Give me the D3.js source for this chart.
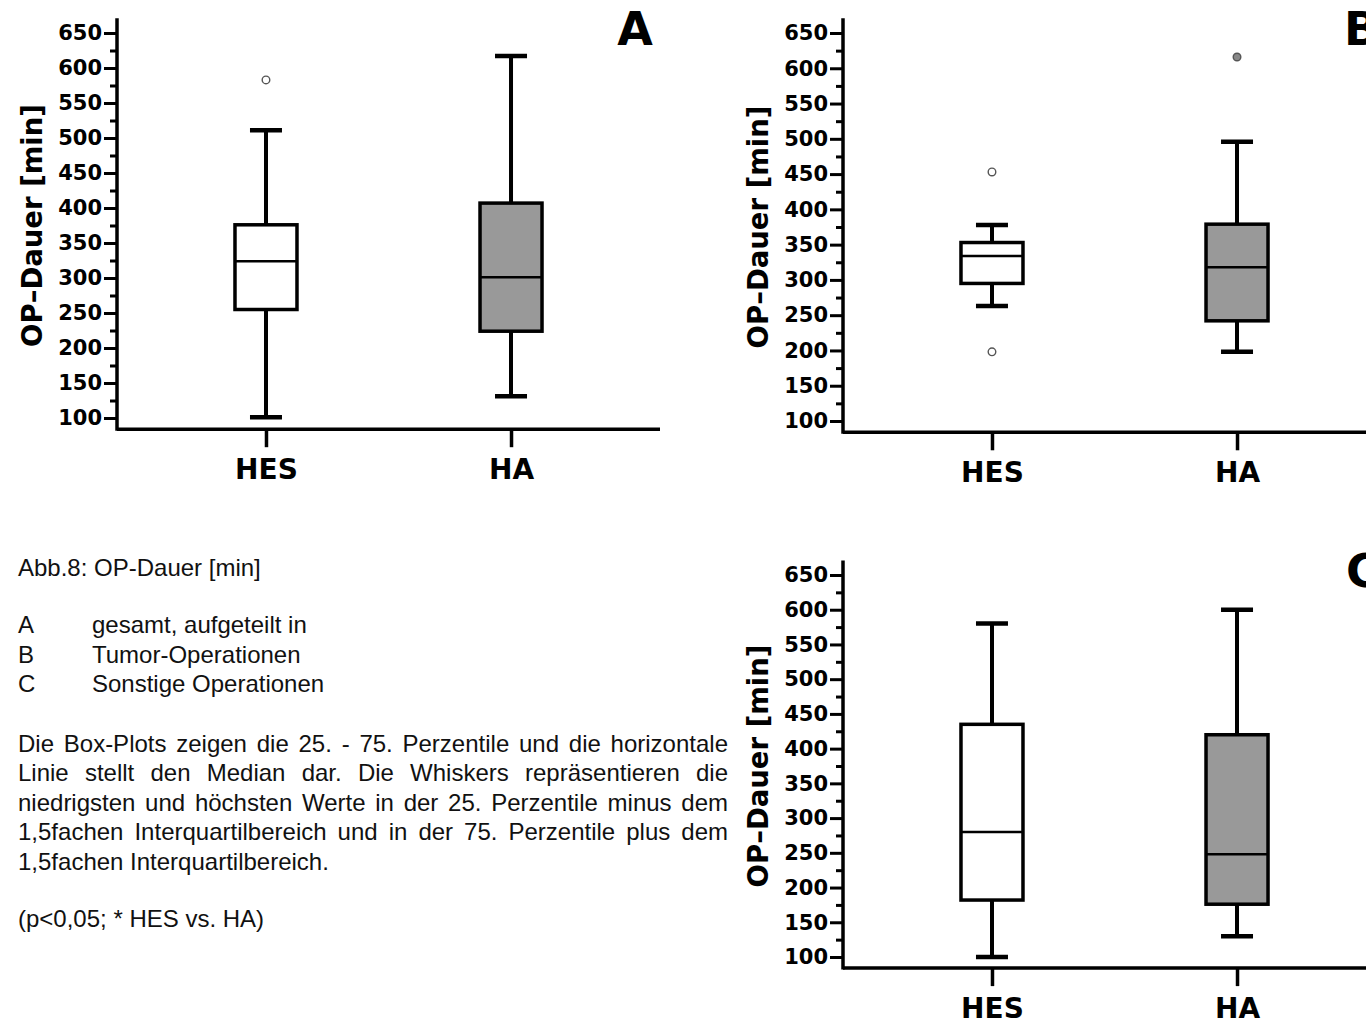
<!DOCTYPE html>
<html>
<head>
<meta charset="utf-8">
<script src="https://cdn.jsdelivr.net/npm/d3@7"></script>
<style>
    body { margin: 0; background: #fff; }
    svg { display: block; }
    .axis text { font-family: "DejaVu Sans", sans-serif; font-weight: bold; fill: #000; }
    .caption { font-family: "Liberation Sans", Arial, sans-serif; font-size: 24px; fill: #111; }
</style>
</head>
<body>
<div id="chart"></div>
<script>
// groups on the x axis
const groups = ["HES", "HA"];

// y axis ticks
const majorTicks = [100, 150, 200, 250, 300, 350, 400, 450, 500, 550, 600, 650];
const minorTicks = [125, 175, 225, 275, 325, 375, 425, 475, 525, 575, 625];

// A: gesamt   (values per group: HES, HA)
const aLow = [101, 131];
const aQ1 = [255, 224];
const aMedian = [324, 301];
const aQ3 = [376, 407];
const aHigh = [511, 617];
const aOutliers = [[583], []];

// B: Tumor-Operationen
const bLow = [263, 198];
const bQ1 = [295, 242];
const bMedian = [334, 318];
const bQ3 = [353, 379];
const bHigh = [378, 496];
const bOutliers = [[453, 198], [616]];

// C: Sonstige Operationen
const cLow = [100, 130];
const cQ1 = [182, 176];
const cMedian = [280, 248];
const cQ3 = [435, 420];
const cHigh = [580, 600];
const cOutliers = [[], []];

const fills = ["#ffffff", "#999999"];
const outlierFills = ["#ffffff", "#888888"];

let svg = d3.select("#chart").append("svg")
    .attr("width", 1366)
    .attr("height", 1027);

function buildStats(low, q1, med, q3, high, outl) {
    return groups.map((g, i) => ({
        group: g, low: low[i], q1: q1[i], median: med[i], q3: q3[i], high: high[i],
        outliers: outl[i], fill: fills[i], outFill: outlierFills[i]
    }));
}

function drawPanel(stats, cfg) {
    let g = svg.append("g");

    let y = d3.scaleLinear().domain([100, 650]).range([cfg.y100, cfg.y650]);
    let x = d3.scalePoint().domain(groups).range([cfg.x0, cfg.x0 + 543]).padding(0.608);

    let baseY = y(84);
    let topY = y(671);

    // minor ticks
    g.append("g")
        .attr("class", "axis")
        .attr("transform", `translate(${cfg.x0},0)`)
        .call(d3.axisLeft(y).tickValues(minorTicks).tickSize(7).tickFormat(""))
        .call(a => a.select(".domain").remove())
        .selectAll("line").attr("stroke", "#000").attr("stroke-width", 3);

    // major ticks
    g.append("g")
        .attr("class", "axis")
        .attr("transform", `translate(${cfg.x0},0)`)
        .call(d3.axisLeft(y).tickValues(majorTicks).tickSize(13).tickPadding(2))
        .call(a => a.select(".domain").remove())
        .call(a => a.selectAll("line").attr("stroke", "#000").attr("stroke-width", 3))
        .selectAll("text")
        .style("font-size", "21px");

    // x axis
    g.append("g")
        .attr("class", "axis")
        .attr("transform", `translate(0,${baseY})`)
        .call(d3.axisBottom(x).tickSize(18).tickPadding(12))
        .call(a => a.select(".domain").remove())
        .call(a => a.selectAll("line").attr("stroke", "#000").attr("stroke-width", 3.5))
        .selectAll("text")
        .style("font-size", "28px");

    // axis lines
    g.append("line")
        .attr("x1", cfg.x0).attr("x2", cfg.x0)
        .attr("y1", topY).attr("y2", baseY + 1.5)
        .attr("stroke", "#000").attr("stroke-width", 3.5);
    g.append("line")
        .attr("x1", cfg.x0).attr("x2", cfg.x0 + 543)
        .attr("y1", baseY).attr("y2", baseY)
        .attr("stroke", "#000").attr("stroke-width", 3.5);

    // y label
    g.append("text")
        .attr("transform", `translate(${cfg.x0 - 85},${(cfg.y100 + cfg.y650) / 2}) rotate(-90)`)
        .attr("text-anchor", "middle")
        .attr("dy", "0.35em")
        .style("font-family", "DejaVu Sans, sans-serif")
        .style("font-weight", "bold")
        .style("font-size", "27.5px")
        .text("OP\u2013Dauer [min]");

    // panel letter
    g.append("text")
        .attr("x", cfg.letterX).attr("y", cfg.letterY)
        .attr("text-anchor", cfg.letterAnchor)
        .style("font-family", "DejaVu Sans, sans-serif")
        .style("font-weight", "bold")
        .style("font-size", "46px")
        .text(cfg.letter);

    let boxW = 62, capW = 32;

    let box = g.selectAll(".box")
        .data(stats)
        .enter().append("g")
        .attr("class", "box");

    // whiskers
    box.append("line")
        .attr("x1", d => x(d.group)).attr("x2", d => x(d.group))
        .attr("y1", d => y(d.high)).attr("y2", d => y(d.q3))
        .attr("stroke", "#000").attr("stroke-width", 4);
    box.append("line")
        .attr("x1", d => x(d.group)).attr("x2", d => x(d.group))
        .attr("y1", d => y(d.q1)).attr("y2", d => y(d.low))
        .attr("stroke", "#000").attr("stroke-width", 4);
    box.append("line")
        .attr("x1", d => x(d.group) - capW / 2).attr("x2", d => x(d.group) + capW / 2)
        .attr("y1", d => y(d.high)).attr("y2", d => y(d.high))
        .attr("stroke", "#000").attr("stroke-width", 4.5);
    box.append("line")
        .attr("x1", d => x(d.group) - capW / 2).attr("x2", d => x(d.group) + capW / 2)
        .attr("y1", d => y(d.low)).attr("y2", d => y(d.low))
        .attr("stroke", "#000").attr("stroke-width", 4.5);

    // boxes
    box.append("rect")
        .attr("x", d => x(d.group) - boxW / 2)
        .attr("width", boxW)
        .attr("y", d => y(d.q3))
        .attr("height", d => y(d.q1) - y(d.q3))
        .attr("fill", d => d.fill)
        .attr("stroke", "#000").attr("stroke-width", 3.5);

    // medians
    box.append("line")
        .attr("x1", d => x(d.group) - boxW / 2).attr("x2", d => x(d.group) + boxW / 2)
        .attr("y1", d => y(d.median)).attr("y2", d => y(d.median))
        .attr("stroke", "#000").attr("stroke-width", 2.5);

    // outliers
    box.selectAll(".out")
        .data(d => d.outliers.map(v => ({v: v, group: d.group, fill: d.outFill})))
        .enter().append("circle")
        .attr("cx", d => x(d.group))
        .attr("cy", d => y(d.v))
        .attr("r", 3.8)
        .attr("fill", d => d.fill)
        .attr("stroke", "#555")
        .attr("stroke-width", 1.4);
}

drawPanel(buildStats(aLow, aQ1, aMedian, aQ3, aHigh, aOutliers),
    {x0: 117, y100: 418, y650: 33, letter: "A", letterX: 635, letterY: 45, letterAnchor: "middle"});
drawPanel(buildStats(bLow, bQ1, bMedian, bQ3, bHigh, bOutliers),
    {x0: 843, y100: 421, y650: 33, letter: "B", letterX: 1344, letterY: 45, letterAnchor: "start"});
drawPanel(buildStats(cLow, cQ1, cMedian, cQ3, cHigh, cOutliers),
    {x0: 843, y100: 957, y650: 575, letter: "C", letterX: 1346, letterY: 587, letterAnchor: "start"});

// caption text
let cap = svg.append("g").attr("class", "caption");

cap.append("text").attr("x", 18).attr("y", 576).text("Abb.8: OP-Dauer [min]");

const legendKeys = ["A", "B", "C"];
const legendTexts = ["gesamt, aufgeteilt in", "Tumor-Operationen", "Sonstige Operationen"];
legendKeys.forEach((k, i) => {
    cap.append("text").attr("x", 18).attr("y", 633 + i * 29.5).text(k);
    cap.append("text").attr("x", 92).attr("y", 633 + i * 29.5).text(legendTexts[i]);
});

const paragraph = [
    "Die Box-Plots zeigen die 25. - 75. Perzentile und die horizontale",
    "Linie stellt den Median dar. Die Whiskers repräsentieren die",
    "niedrigsten und höchsten Werte in der 25. Perzentile minus dem",
    "1,5fachen Interquartilbereich und in der 75. Perzentile plus dem",
    "1,5fachen Interquartilbereich."
];
const lineWidth = 710;
paragraph.forEach((line, i) => {
    let t = cap.append("text").attr("x", 18).attr("y", 752 + i * 29.4).text(line);
    // justified lines except the last
    if (i < paragraph.length - 1) {
        let w = t.node().getComputedTextLength();
        let spaces = line.split(" ").length - 1;
        if (w < lineWidth) {
            t.attr("word-spacing", (lineWidth - w) / spaces);
        } else {
            t.attr("textLength", lineWidth).attr("lengthAdjust", "spacingAndGlyphs");
        }
    }
});

cap.append("text").attr("x", 18).attr("y", 927).text("(p<0,05; * HES vs. HA)");
</script>
</body>
</html>
